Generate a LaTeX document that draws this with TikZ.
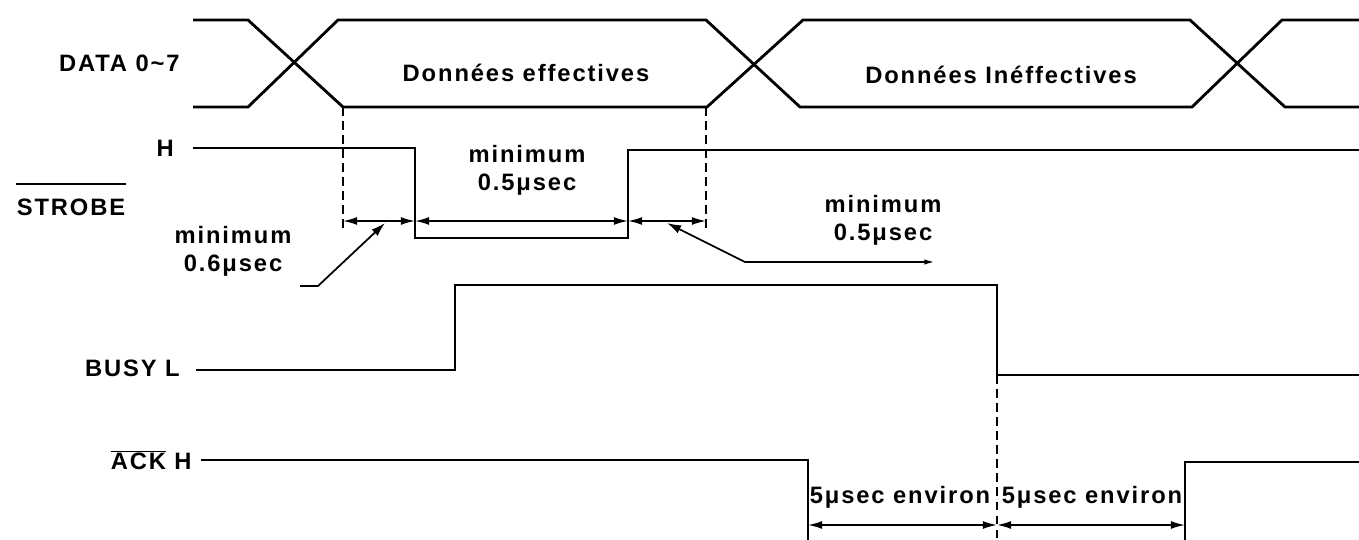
\documentclass[tikz,border=0pt]{standalone}
\usepackage{fontspec}
\setmainfont{Liberation Sans}[LetterSpace=8.0]
\usepackage{tikz}
\usetikzlibrary{arrows.meta}

\begin{document}
\begin{tikzpicture}[x=0.02cm, y=-0.02cm,
  sig/.style={line width=1.6pt},
  guide/.style={line width=0.8pt, dash pattern=on 5pt off 3pt},
  dimline/.style={line width=0.9pt, {Latex[length=8pt,width=4.5pt]}-{Latex[length=8pt,width=4.5pt]}},
  lab/.style={font=\fontsize{13.5}{16}\selectfont\bfseries, inner sep=0pt},
  note/.style={lab, align=center}]

\useasboundingbox (0,0) rectangle (1359,540);


\draw[sig] (193,20)--(248,20)--(343,107)--(707,107)--(803,20)--(1190,20)--(1285,107)--(1359,107);
\draw[sig] (193,107)--(248,107)--(338,20)--(706,20)--(800,107)--(1192,107)--(1282,20)--(1359,20);

\node[lab, anchor=east] (data) at (180,63) {DATA 0\textasciitilde7};
\node[lab] (eff) at (526,73) {Données effectives};
\node[lab] (ineff) at (1001,75) {Données Inéffectives};


\node[lab, anchor=east] (hstrobe) at (174,148) {H};
\node[lab] (strobe) at (71,207) {STROBE};
\draw[line width=1pt] ([yshift=8pt]strobe.north west)--([yshift=8pt]strobe.north east);
\draw[sig] (193,148)--(415,148)--(415,238)--(628,238)--(628,150)--(1359,150);

\draw[guide] (343,107)--(343,230);
\draw[guide] (706,107)--(706,230);

\draw[dimline] (343,221)--(415,221);
\draw[dimline] (415,221)--(628,221);
\draw[dimline] (628,221)--(706,221);

\node[note] (minm) at (527,170) {minimum\\0.5μsec};
\node[note] (minl) at (233,251) {minimum\\0.6μsec};
\node[note] (minr) at (883,220) {minimum\\0.5μsec};

\coordinate (lfoot) at (300,286);
\coordinate (ltip) at (385,223);
\draw[line width=1pt, -{Latex[length=8pt,width=5pt]}] (lfoot)--++(18,0)--(ltip);
\coordinate (rtip) at (667,223);
\coordinate (rend) at (935,262);
\draw[line width=1pt, {Latex[length=8pt,width=5pt]}-{Latex[length=6pt,width=3pt]}] (rtip)--(745,262)--(rend);


\node[lab, anchor=east] (busy) at (180,368) {BUSY L};
\draw[sig] (196,370)--(455,370)--(455,285)--(997,285)--(997,375)--(1359,375);


\node[lab, anchor=east] (ack) at (192,460) {$\overline{\mbox{ACK}}$ H};
\draw[sig] (201,460)--(808,460)--(808,545);
\draw[sig] (1185,545)--(1185,462)--(1359,462);

\draw[guide] (997,375)--(997,545);
\draw[dimline] (808,525)--(997,525);
\draw[dimline] (997,525)--(1185,525);

\node[lab] (envl) at (900,497) {5μsec environ};
\node[lab] (envr) at (1092,497) {5μsec environ};

\end{tikzpicture}
\end{document}
